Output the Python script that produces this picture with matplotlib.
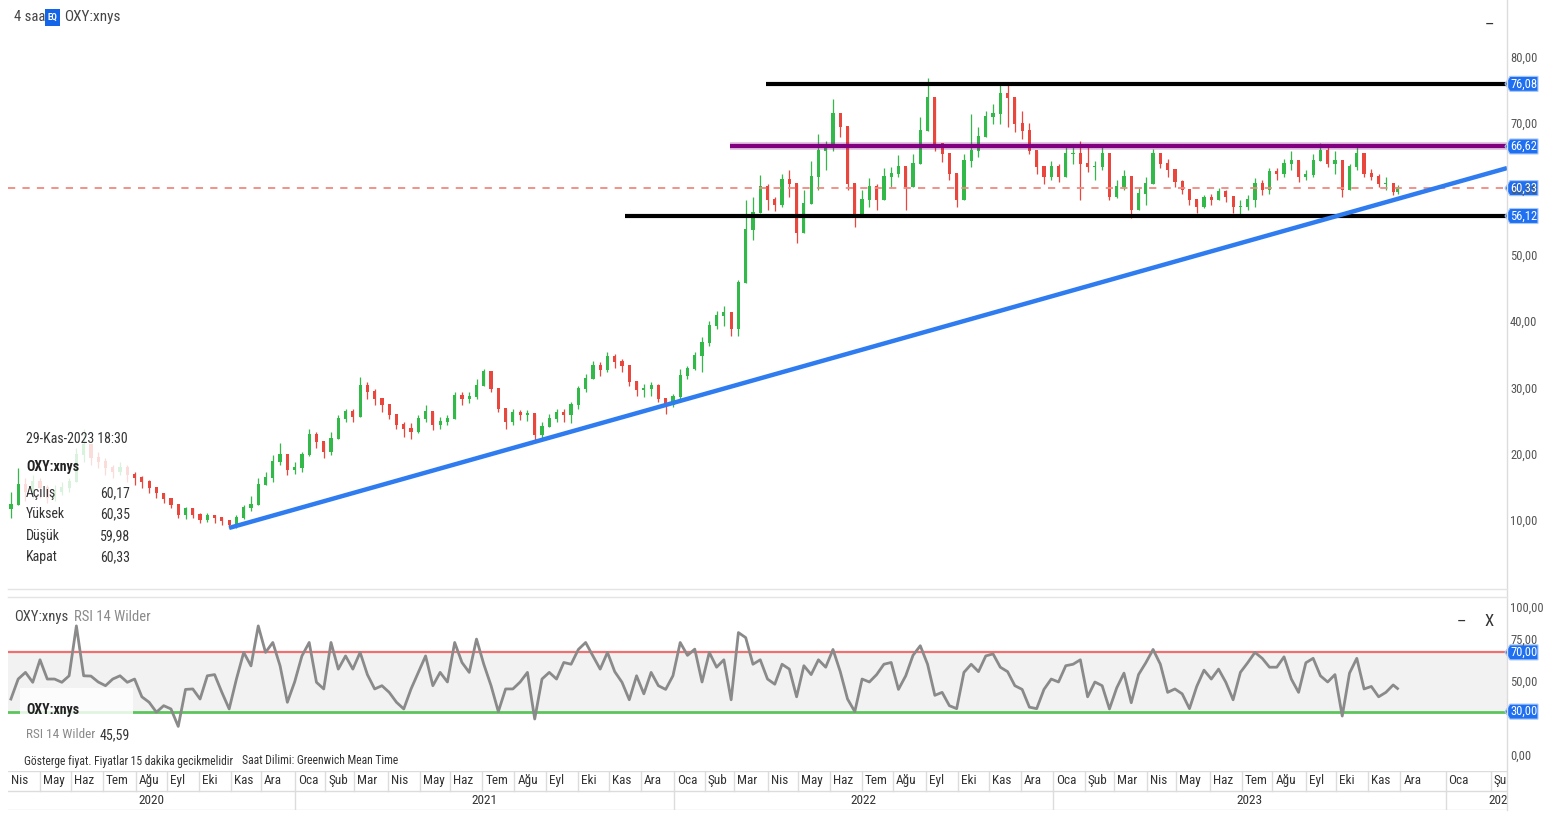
import numpy as np
import pandas as pd
import matplotlib
matplotlib.use("Agg")
import matplotlib.pyplot as plt
from matplotlib.patches import Rectangle, Polygon
from matplotlib import font_manager as fm

# ---------------- data ----------------
week_end = list(pd.date_range("2020-04-03", "2023-11-24", freq="W-FRI")) + [pd.Timestamp("2023-11-29")]

first_open = 11.8
closes = [12.5, 15.5, 14.5, 16, 15, 13.5, 14.5, 15, 16, 20,
          21.5, 19.5, 19, 18, 17.5, 18, 17, 16.5, 16, 15,
          14.2, 13.3, 12.5, 11, 11.8, 11, 10.2, 10.8, 10.5, 10,
          9.4, 10.5, 12, 12.5, 15.5, 16.5, 19, 20, 17.8, 18,
          20, 23, 22, 20.5, 22.5, 25.5, 26.5, 25.8, 30.5, 29.5,
          28.5, 27.5, 26, 24.6, 24, 23.5, 25.5, 26.5, 24.5, 25,
          25.5, 29, 28.5, 28.8, 30.5, 32.5, 30, 27, 25, 26.3,
          26, 26.2, 23, 24.3, 25.5, 26.3, 26, 27.5, 30, 31.5,
          33.5, 32.8, 34.8, 34, 33.5, 31, 29.8, 30, 30.5, 28.5,
          27.5, 28.8, 32, 33, 35, 37, 39.5, 41, 41.5, 39,
          46, 54, 56.5, 60.5, 58.5, 57.8, 61.5, 61, 53.5, 58,
          62, 66, 66.5, 71.5, 69.5, 61, 56, 58.5, 60.5, 58.5,
          62, 62.5, 63.5, 60.5, 64, 69, 74, 67, 65.5, 62.5,
          58.5, 64.5, 66, 68, 71, 71.5, 74.5, 74, 70, 69,
          66, 63.5, 62, 63.5, 62, 65.5, 65.5, 64, 63.5, 63.5,
          65.5, 59, 60.5, 62, 57, 59.5, 61, 65.5, 64, 63,
          61.2, 60, 58.5, 57.5, 58.8, 58.5, 59.8, 59, 57.5, 57.5,
          58.5, 61, 60, 62.8, 62.5, 64, 64.5, 62, 62.3, 64.5,
          66, 64, 64.5, 60, 63.5, 65.5, 62.5, 62, 61, 61,
          59.8, 60.33]
highs = [14.5, 18, 16.5, 17, 16.5, 15.5, 15.5, 16, 16.5, 21,
         24, 21.5, 20.5, 19.5, 18.5, 19, 18.5, 17.5, 16.8, 16.2,
         15.2, 14.3, 13.5, 12.5, 12.2, 12, 11.2, 11.3, 11, 10.6,
         10.2, 11, 12.5, 13.8, 16.5, 17.5, 20, 21.8, 20, 19,
         20.5, 24, 23.5, 22, 23.5, 26, 27, 27, 31.8, 31,
         30, 28.5, 27.5, 26, 25, 24.8, 26, 27.5, 26.5, 25.8,
         26, 29.5, 29.5, 29.5, 31.5, 33, 31.5, 30, 27, 27,
         26.8, 26.8, 26, 25, 26.2, 27, 27, 28, 30.5, 32.3,
         34.2, 34, 35.5, 35.3, 34.5, 33.5, 31.2, 30.8, 31, 30.8,
         28.5, 29.3, 33, 33.5, 35.5, 37.8, 40.3, 41.8, 42.5, 41,
         46.5, 58.5, 59, 62.3, 61, 59, 62.5, 63, 60, 60,
         64.5, 68.5, 67.5, 73.8, 71.5, 68, 60, 60, 61.8, 61,
         63.3, 63.5, 65.3, 62, 65.5, 71, 77, 72, 66.5, 64.5,
         62, 65.5, 71.5, 69.5, 72, 73, 76.2, 76, 72.5, 72,
         70.2, 65, 63.5, 64.5, 64, 66.5, 66.5, 67.5, 67, 64.5,
         66.6, 62, 61.5, 63, 60.5, 60.5, 62, 66.2, 65.5, 64.8,
         62.5, 61.5, 60, 58.5, 59.3, 59.5, 60.3, 60, 59, 58.5,
         59.3, 61.8, 61.5, 63.3, 63.3, 64.8, 66, 64, 63, 65.5,
         67.2, 66.5, 66, 63, 64, 66.5, 65.5, 63.2, 62.5, 62,
         61, 60.8]
lows = [10.5, 12.5, 13, 13.5, 13.5, 12.8, 13, 14, 14.5, 16,
        19, 18.5, 18, 17, 16.5, 17, 16, 15.5, 15, 14.3,
        13.5, 12.8, 12, 10.5, 10.3, 10.5, 9.8, 9.9, 9.8, 9.5,
        9, 9, 10.3, 11.5, 12.8, 15.5, 16, 18.5, 17, 17.2,
        17.5, 19.8, 21, 19.5, 20, 22.5, 25, 25, 26, 28.5,
        27.5, 26.5, 25.5, 24, 22.8, 22.5, 23.3, 25, 23.8, 24,
        24.5, 25.5, 27.5, 27.8, 28.5, 30.5, 29.5, 26.5, 24, 24.5,
        25.3, 25.2, 22.3, 22.5, 24.2, 25, 25, 24.8, 27, 29.5,
        31.5, 32, 32.5, 33.2, 32.5, 30.5, 29, 28.8, 29, 28,
        26.2, 27.2, 28.5, 31.5, 32.8, 32.5, 36.5, 39, 39.5, 38,
        38, 47.5, 52.5, 57, 57, 56.8, 57.5, 59, 52, 55.5,
        58, 60, 63, 66, 68, 60, 54.5, 56, 57.5, 57,
        58.5, 60.5, 62, 57, 61, 64, 70, 66, 64.2, 61.5,
        57.5, 59, 63.5, 65, 68, 70, 70, 69.5, 68.8, 67.8,
        65.5, 62.5, 61, 61.5, 61.2, 62, 64, 58.5, 62.8, 61.5,
        63, 58.5, 58.8, 60, 55.8, 57.5, 57.8, 61.5, 63.3, 62,
        60.5, 59.5, 57.8, 56.5, 57.3, 57.8, 58.5, 58.3, 56.5, 56.1,
        57, 57.5, 59.3, 59.5, 61.5, 62, 63, 61.2, 61.5, 62,
        64.5, 63.5, 62.5, 59, 60.5, 63, 62, 61.5, 60.5, 60,
        59.3, 59.5]
rsi = [38.5, 52, 56.5, 49.8, 65, 52, 52, 49.8, 54.2, 87.9,
       54.2, 54, 50, 47.5, 52, 54.2, 49.8, 52, 40, 36.3,
       29.6, 34, 31.8, 20, 45, 45.3, 38.5, 54.2, 55, 43,
       31.8, 52, 70, 60.9, 87.9, 70, 76.7, 60.9, 36.3, 50,
       67.6, 76.7, 49.8, 45.3, 76.7, 58.7, 67.6, 58.7, 70, 55,
       45.3, 47.5, 43, 36.3, 31.8, 45.3, 56.5, 67.6, 47.5, 56.5,
       50, 76.7, 63.2, 56.5, 79, 62, 47.5, 30, 45.3, 45.3,
       50, 56.5, 25, 52, 56.5, 52, 63.2, 62, 72, 76.7,
       67.6, 58.7, 70, 57, 49.8, 38, 54.2, 42, 56.5, 47.5,
       45, 54.2, 76.7, 68, 72.2, 50, 70, 60, 65, 38,
       83.4, 80, 62, 65, 52, 48.5, 62, 58.7, 40, 61,
       55, 65, 60, 72, 57, 38.5, 30, 52, 50, 55,
       62, 63.2, 45, 54.2, 68, 74.5, 62, 41, 43, 34,
       32, 56.5, 62, 57, 67.6, 69, 60, 57, 47.5, 45,
       33, 32, 45, 52, 50, 61, 62, 65, 40, 50,
       47.5, 31.8, 46, 56, 36, 55, 63, 72, 62, 43,
       45.3, 42, 32, 47, 58, 52, 58.7, 49.8, 38, 56.5,
       63, 70, 66, 60, 60, 67, 52, 43, 63, 66,
       54.2, 50, 55, 27, 56, 66, 45.3, 47, 40, 43,
       48, 45.59]

levels = [76.08, 66.62, 56.12]
level_start = ["2022-03-31", "2022-02-24", "2021-11-16"]
level_colors = ["#000000", "#800080", "#000000"]
last_price = 60.33
trend_points = [("2020-10-30", 9.0), ("2023-11-29", 58.7)]
price_ticks = [10, 20, 30, 40, 50, 60, 70, 80]
rsi_ticks = [0, 50, 75, 100]
rsi_levels = [70, 30]
info_labels = ["Açılış", "Yüksek", "Düşük", "Kapat"]
info_values = ["60,17", "60,35", "59,98", "60,33"]
rsi_last = "45,59"
month_names = ["Oca", "Şub", "Mar", "Nis", "May", "Haz", "Tem", "Ağu", "Eyl", "Eki", "Kas", "Ara"]

# ---------------- setup ----------------
names = {f.name for f in fm.fontManager.ttflist}
FONT = next((n for n in ["Liberation Sans Narrow", "Roboto Condensed", "Arial Narrow",
                         "Liberation Sans", "Roboto"] if n in names), "DejaVu Sans")
plt.rcParams["font.family"] = [FONT, "DejaVu Sans"]

W, H = 1543, 814
fig = plt.figure(figsize=(W / 100, H / 100), dpi=100)
fig.patch.set_facecolor("white")

START = pd.Timestamp("2020-04-01")
LAST = pd.Timestamp("2023-11-29")
N_LAST = int(np.busday_count(START.date(), LAST.date()))


def xpos(d):
    d = pd.Timestamp(d)
    if d <= LAST:
        return float(np.busday_count(START.date(), d.date()))
    return N_LAST + (d - LAST).days


PX = 1.455            # pixels per unit
XL, XR = 8, 1507      # plot left/right in pixels
xmin, xmax = 0.0, (XR - XL) / PX


def fax(top, bottom):
    return [XL / W, 1 - bottom / H, (XR - XL) / W, (bottom - top) / H]


def ftext(x, y, s, **kw):
    kw.setdefault("va", "center")
    return fig.text(x / W, 1 - y / H, s, **kw)


# price axes
ax = fig.add_axes(fax(0, 588))
ax.set_xlim(xmin, xmax)
ax.set_ylim((587.5 - 588) / 6.62, 587.5 / 6.62)
ax.axis("off")

x = np.array([xpos(d) for d in week_end])
c = np.array(closes, float)
o = np.concatenate([[first_open], c[:-1]])
hi = np.maximum(np.array(highs, float), np.maximum(o, c))
lo = np.minimum(np.array(lows, float), np.minimum(o, c))
up = c >= o
GREEN, RED = "#33b84a", "#e8473e"
cols = np.where(up, GREEN, RED)
ax.vlines(x, lo, hi, colors=cols, lw=0.9, zorder=2)
ax.bar(x, np.abs(c - o) + 0.15, bottom=np.minimum(o, c), width=2.2, color=cols, lw=0, zorder=2)

# level lines
for lv, st, col in zip(levels, level_start, level_colors):
    xs = xpos(st)
    if col != "#000000":
        ax.plot([xs, xmax], [lv, lv], color=col, lw=5.5, alpha=0.25, solid_capstyle="butt", zorder=4)
    ax.plot([xs, xmax], [lv, lv], color=col, lw=3.0, solid_capstyle="butt", zorder=5)
ax.plot([xmin, xmax], [last_price, last_price], color="#f08a80", lw=1.3, ls=(0, (4, 4)), zorder=3)

# trend line
(d1, p1), (d2, p2) = trend_points
x1, x2 = xpos(d1), xpos(d2)
slope = (p2 - p1) / (x2 - x1)
ax.plot([x1, xmax], [p1, p1 + slope * (xmax - x1)], color="#2e7cf0", lw=3.2,
        solid_capstyle="butt", zorder=6)

# info box over price
ax.add_patch(Rectangle((xpos("2020-04-11"), (587.5 - 572) / 6.62), (135 - 22) / PX, (572 - 425) / 6.62,
                       facecolor="white", alpha=0.82, lw=0, zorder=7))

# RSI axes
ar = fig.add_axes(fax(597, 771))
ar.set_xlim(xmin, xmax)
ar.set_ylim((756 - 771) / 1.48, (756 - 597) / 1.48)
ar.axis("off")
ar.axhspan(rsi_levels[1], rsi_levels[0], color="#f2f2f2", lw=0, zorder=1)
ar.axhline(rsi_levels[0], color="#f07070", lw=1.6, zorder=2)
ar.axhline(rsi_levels[1], color="#5cc45c", lw=2.0, zorder=2)
ar.plot(x, rsi, color="#8a8a8a", lw=2.0, zorder=3)
ar.add_patch(Rectangle((xpos("2020-04-11"), (756 - 748) / 1.48), (135 - 22) / PX, (748 - 688) / 1.48,
                       facecolor="white", alpha=0.82, lw=0, zorder=7))

# time axis
at = fig.add_axes(fax(771, 810))
at.set_xlim(xmin, xmax)
at.set_ylim(0, 2)
at.axis("off")
GRID = "#dcdcdc"
for yy in (0.02, 1.0, 1.98):
    at.axhline(yy, color=GRID, lw=1)
months = pd.date_range("2020-04-01", "2024-03-01", freq="MS")
for m in months:
    xm = xpos(m)
    if xm > xmax:
        break
    if xm > 0:
        at.plot([xm, xm], [1.0, 2.0], color=GRID, lw=1)
    at.text(xm + 3 / PX, 1.5, month_names[m.month - 1], ha="left", va="center",
            fontsize=9.5, color="#333333", clip_on=True)
years = [2020, 2021, 2022, 2023, 2024]
for yv in years:
    ys = max(xpos(f"{yv}-01-01") if yv > 2020 else 0.0, 0.0)
    ye = xpos(f"{yv + 1}-01-01") if yv < 2024 else xpos("2024-03-18")
    if yv > 2020:
        at.plot([ys, ys], [0.0, 1.0], color=GRID, lw=1)
    at.text((ys + ye) / 2, 0.5, str(yv), ha="center", va="center", fontsize=9.5,
            color="#333333", clip_on=True)

# frame lines
fig.add_artist(plt.Line2D([XR / W, XR / W], [1 - 810 / H, 1.0], color=GRID, lw=1))
fig.add_artist(plt.Line2D([XL / W, XR / W], [1 - 588.5 / H, 1 - 588.5 / H], color="#e4e4e4", lw=1))
fig.add_artist(plt.Line2D([XL / W, XR / W], [1 - 597 / H, 1 - 597 / H], color="#e4e4e4", lw=1))


def pix_y(axis, val):
    return H - axis.transData.transform((0, val))[1]


# right price tick labels
for t in price_ticks:
    ftext(1510, pix_y(ax, t), f"{t},00", fontsize=9, color="#555555", ha="left")
for t in rsi_ticks:
    ftext(1510, pix_y(ar, t) - (5 if t == 75 else 0), f"{t},00", fontsize=9, color="#555555", ha="left")

BLUE = "#1f6ff2"


def tag(yc, s):
    pts = [(1505, yc), (1510, yc - 7.5), (1538, yc - 7.5), (1538, yc + 7.5), (1510, yc + 7.5)]
    fig.add_artist(Polygon([(px / W, 1 - py / H) for px, py in pts], closed=True,
                           facecolor=BLUE, edgecolor="#a8c8f8", lw=0.8))
    ftext(1524, yc, s, fontsize=9, color="white", ha="center")


for lv in levels + [last_price]:
    tag(pix_y(ax, lv), f"{lv:.2f}".replace(".", ","))
for lv in rsi_levels:
    tag(pix_y(ar, lv), f"{lv:.2f}".replace(".", ","))

# header
ftext(14, 17, "4 saa", fontsize=10.5, color="#444444", ha="left")
fig.add_artist(Rectangle((45 / W, 1 - 26 / H), 15 / W, 17 / H, facecolor="#1565e8", lw=0))
ftext(52.5, 17.5, "EQ", fontsize=6.5, color="white", ha="center", fontweight="bold")
ftext(64, 17, "OXY:xnys", fontsize=11, color="#444444", ha="left")
ftext(1490, 25, "–", fontsize=12, color="#333333", ha="center")

# price info text
ftext(26, 439, "29-Kas-2023 18:30", fontsize=10, color="#333333", ha="left")
ftext(26, 467, "OXY:xnys", fontsize=10, color="#222222", ha="left", fontweight="bold")
for i, (lab, val) in enumerate(zip(info_labels, info_values)):
    yy = 493 + i * 21.5
    ftext(26, yy, lab, fontsize=10, color="#333333", ha="left")
    ftext(130, yy, val, fontsize=10, color="#333333", ha="right")

# RSI texts
ftext(14, 617, "OXY:xnys", fontsize=10.5, color="#444444", ha="left")
ftext(74, 617, "RSI 14 Wilder", fontsize=10.5, color="#8a8a8a", ha="left")
ftext(1462, 622, "–", fontsize=12, color="#333333", ha="center")
ftext(1489, 622, "X", fontsize=12, color="#333333", ha="center")
ftext(26, 710, "OXY:xnys", fontsize=10, color="#222222", ha="left", fontweight="bold")
ftext(26, 735, "RSI 14 Wilder", fontsize=9.5, color="#8a8a8a", ha="left")
ftext(130, 735, rsi_last, fontsize=10, color="#333333", ha="right")
ftext(24, 761, "Gösterge fiyat. Fiyatlar 15 dakika gecikmelidir", fontsize=8.4, color="#333333", ha="left")
ftext(242, 761, "Saat Dilimi: Greenwich Mean Time", fontsize=8.4, color="#333333", ha="left")

fig.savefig("out.png", dpi=100)
